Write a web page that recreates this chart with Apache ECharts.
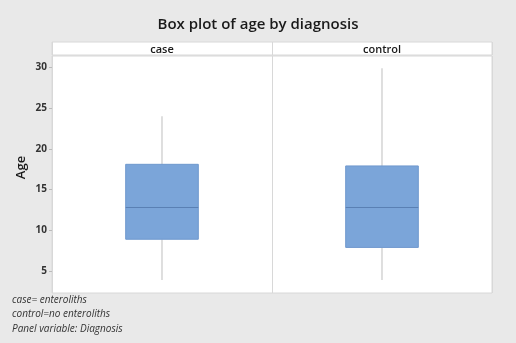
<!DOCTYPE html>
<html>
<head>
<meta charset="utf-8">
<script src="https://cdn.jsdelivr.net/npm/echarts@6/dist/echarts.min.js"></script>
<style>
  html, body { margin: 0; padding: 0; background: #e9e9e9; }
  #chart { width: 516px; height: 343px; }
</style>
</head>
<body>
<div id="chart"></div>
<script>
// Panels (diagnosis groups)
const categories = ['case', 'control'];
// Five-number summaries per group: [min, Q1, median, Q3, max]
const whiskerLow = [3.9, 3.9];
const q1Values = [8.9, 7.9];
const medianValues = [12.8, 12.8];
const q3Values = [18.1, 17.9];
const whiskerHigh = [24.0, 29.9];
// Age axis tick labels
const yTicks = [5, 10, 15, 20, 25, 30];
const notes = ['case= enteroliths', 'control=no enteroliths', 'Panel variable: Diagnosis'];

const boxData = categories.map((c, i) => [i, whiskerLow[i], q1Values[i], medianValues[i], q3Values[i], whiskerHigh[i]]);

const chart = echarts.init(document.getElementById('chart'), null, { renderer: 'canvas' });

function renderBox(params, api) {
  const idx = api.value(0);
  const lo = api.coord([idx, api.value(1)]);
  const q1 = api.coord([idx, api.value(2)]);
  const med = api.coord([idx, api.value(3)]);
  const q3 = api.coord([idx, api.value(4)]);
  const hi = api.coord([idx, api.value(5)]);
  const band = api.size([1, 0])[0];
  const w = band * 0.33;
  const x = lo[0];
  const lineStyle = { stroke: '#c9c9c9', lineWidth: 1.2 };
  return {
    type: 'group',
    children: [
      { type: 'line', shape: { x1: x, y1: hi[1], x2: x, y2: q3[1] }, style: lineStyle },
      { type: 'line', shape: { x1: x, y1: q1[1], x2: x, y2: lo[1] }, style: lineStyle },
      { type: 'rect', shape: { x: x - w / 2, y: q3[1], width: w, height: q1[1] - q3[1] },
        style: { fill: '#7ba5d9', stroke: '#6f98cd', lineWidth: 1 } },
      { type: 'line', shape: { x1: x - w / 2, y1: med[1], x2: x + w / 2, y2: med[1] },
        style: { stroke: '#5b80b4', lineWidth: 1 } }
    ]
  };
}

chart.setOption({
  backgroundColor: '#e9e9e9',
  animation: false,
  title: {
    text: 'Box plot of age by diagnosis',
    left: 'center',
    top: 12,
    textStyle: { fontFamily: 'Open Sans', fontSize: 15, fontWeight: 600, color: '#1a1a1a' }
  },
  graphic: notes.map((t, i) => ({
    type: 'text',
    left: 12,
    top: 295 + i * 14.5,
    style: { text: t, font: 'italic 10px "Open Sans"', fill: '#333' }
  })),
  grid: [
    { left: 52, right: 24, top: 56, bottom: 50, show: true, backgroundColor: '#ffffff', borderColor: '#d8d8d8', borderWidth: 1 },
    { left: 52, right: 24, top: 42, height: 13, show: true, backgroundColor: '#ffffff', borderColor: '#d8d8d8', borderWidth: 1 }
  ],
  xAxis: [
    {
      type: 'category', data: categories, gridIndex: 0,
      axisLine: { show: false }, axisTick: { show: false }, axisLabel: { show: false },
      splitLine: { show: true, lineStyle: { color: '#d8d8d8', width: 1 } }
    },
    {
      type: 'category', data: categories, gridIndex: 1, position: 'bottom',
      axisLine: { show: false }, axisTick: { show: false },
      axisLabel: { inside: true, margin: 0, fontFamily: 'Open Sans', fontSize: 11, fontWeight: 600, color: '#1a1a1a' },
      splitLine: { show: true, lineStyle: { color: '#d8d8d8', width: 1 } }
    }
  ],
  yAxis: [
    {
      type: 'value', gridIndex: 0, min: 2.3, max: 31.4,
      name: 'Age', nameLocation: 'middle', nameGap: 24, nameMoveOverlap: false,
      nameTextStyle: { fontFamily: 'Open Sans', fontSize: 13, fontWeight: 600, color: '#1a1a1a', padding: [0, 0, 0, 14] },
      axisLine: { show: false },
      axisTick: { show: true, length: 3, customValues: yTicks, lineStyle: { color: '#bbb' } },
      axisLabel: { customValues: yTicks, margin: 5, fontFamily: 'Open Sans', fontSize: 10, fontWeight: 700, color: '#333' },
      splitLine: { show: false }
    },
    { type: 'value', gridIndex: 1, show: false }
  ],
  series: [{
    type: 'custom',
    xAxisIndex: 0, yAxisIndex: 0,
    renderItem: renderBox,
    encode: { x: 0, y: [1, 2, 3, 4, 5] },
    data: boxData
  }]
});
</script>
</body>
</html>
